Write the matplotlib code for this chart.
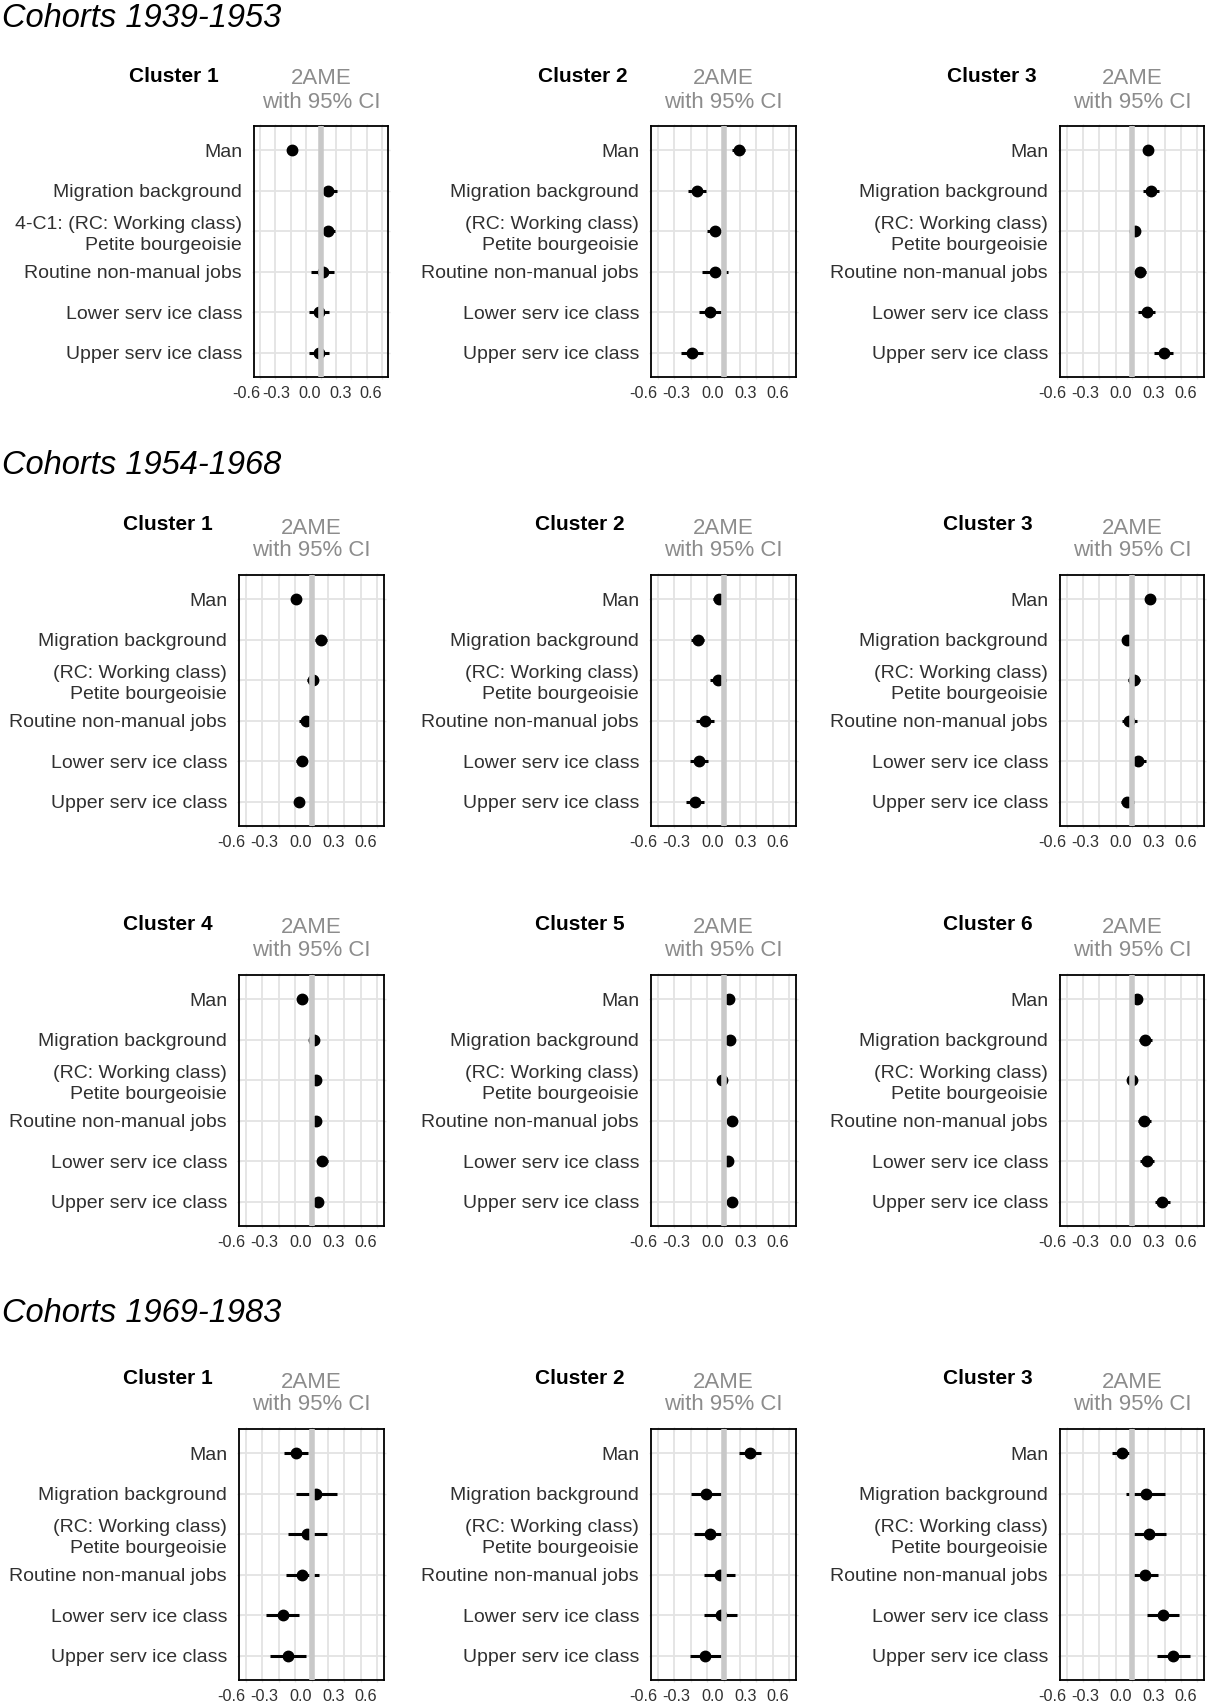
import numpy as np
import matplotlib
matplotlib.use("Agg")
import matplotlib.pyplot as plt

plt.rcParams['font.family'] = ['Liberation Sans', 'DejaVu Sans']

# row labels of every panel (top to bottom)
terms = ["Man", "Migration background", "(RC: Working class)\nPetite bourgeoisie",
         "Routine non-manual jobs", "Lower serv ice class", "Upper serv ice class"]
terms_first = ["Man", "Migration background", "4-C1: (RC: Working class)\nPetite bourgeoisie",
               "Routine non-manual jobs", "Lower serv ice class", "Upper serv ice class"]

# cohorts 1939-1953: AME and half width of the 95% CI
c39_cl1_est = [-0.285, 0.07, 0.065, 0.015, -0.02, -0.02]
c39_cl1_hw = [0.05, 0.085, 0.07, 0.11, 0.098, 0.098]
c39_cl2_est = [0.14, -0.24, -0.076, -0.08, -0.12, -0.285]
c39_cl2_hw = [0.06, 0.08, 0.075, 0.118, 0.1, 0.1]
c39_cl3_est = [0.145, 0.175, 0.025, 0.07, 0.135, 0.29]
c39_cl3_hw = [0.03, 0.07, 0.04, 0.06, 0.08, 0.085]

# cohorts 1954-1968
c54_cl1_est = [-0.143, 0.083, 0.01, -0.05, -0.09, -0.117]
c54_cl1_hw = [0.02, 0.055, 0.05, 0.06, 0.05, 0.04]
c54_cl2_est = [-0.043, -0.233, -0.05, -0.167, -0.223, -0.257]
c54_cl2_hw = [0.05, 0.06, 0.07, 0.083, 0.08, 0.08]
c54_cl3_est = [0.165, -0.045, 0.015, -0.025, 0.054, -0.045]
c54_cl3_hw = [0.045, 0.035, 0.055, 0.07, 0.07, 0.06]
c54_cl4_est = [-0.083, 0.023, 0.037, 0.043, 0.1, 0.06]
c54_cl4_hw = [0.02, 0.04, 0.02, 0.02, 0.05, 0.03]
c54_cl5_est = [0.05, 0.06, -0.01, 0.077, 0.04, 0.073]
c54_cl5_hw = [0.02, 0.02, 0.02, 0.03, 0.02, 0.03]
c54_cl6_est = [0.045, 0.12, 0.0, 0.114, 0.135, 0.276]
c54_cl6_hw = [0.03, 0.06, 0.03, 0.06, 0.065, 0.068]

# cohorts 1969-1983
c69_cl1_est = [-0.14, 0.043, -0.04, -0.083, -0.263, -0.217]
c69_cl1_hw = [0.107, 0.187, 0.178, 0.153, 0.152, 0.163]
c69_cl2_est = [0.243, -0.16, -0.123, -0.035, -0.025, -0.167]
c69_cl2_hw = [0.1, 0.14, 0.15, 0.14, 0.148, 0.14]
c69_cl3_est = [-0.096, 0.126, 0.16, 0.12, 0.28, 0.38]
c69_cl3_hw = [0.083, 0.178, 0.155, 0.12, 0.147, 0.15]

xticks = [-0.6, -0.3, 0.0, 0.3, 0.6]
xticklabels = ["-0.6", "-0.3", "0.0", "0.3", "0.6"]

W, H = 1211, 1707
fig = plt.figure(figsize=(W / 100, H / 100), dpi=100)

grid_col = '#e3e3e3'
txt_col = '#303030'


def panel(left, top, right, est, hw, labels, title, title_x):
    bottom = top + 251
    ax = fig.add_axes([left / W, 1 - bottom / H, (right - left) / W, (bottom - top) / H])
    y = np.arange(1, 7)
    est = np.array(est)
    hw = np.array(hw)
    ax.set_xlim(-0.66, 0.66)
    ax.set_ylim(6.6, 0.4)
    ax.set_xticks(xticks)
    ax.set_xticklabels(xticklabels)
    ax.set_xticks([-0.45, -0.15, 0.15, 0.45], minor=True)
    ax.set_yticks(y)
    ax.set_yticklabels(labels, linespacing=1.3)
    for lab in ax.get_xticklabels():
        lab.set_ha('right')
    ax.grid(which='both', color=grid_col, lw=1.3, zorder=0)
    ax.set_axisbelow(True)
    ax.hlines(y, est - hw, est + hw, color='black', lw=2.2, zorder=3)
    ax.plot(est, y, 'o', color='black', ms=7.5, zorder=4)
    ax.axvline(0, color='#c8c8c8', lw=4, zorder=5)
    for s in ax.spines.values():
        s.set_linewidth(1.3)
        s.set_color('black')
    ax.tick_params(axis='both', which='both', direction='inout', length=3, width=1,
                   color=grid_col, top=True, right=True)
    ax.tick_params(axis='y', labelsize=14, labelcolor=txt_col, pad=7.1)
    ax.tick_params(axis='x', labelsize=11.7, labelcolor=txt_col, pad=5.2)
    # titles above the panel
    fig.text(title_x / W, 1 - (top - 50) / H, title, ha='center', va='center',
             fontsize=15, fontweight='bold', color='black')
    cx = (left + right) / 2
    fig.text(cx / W, 1 - (top - 47) / H, "2AME", ha='center', va='center',
             fontsize=16, color='#8c8c8c')
    fig.text(cx / W, 1 - (top - 24) / H, "with 95% CI", ha='center', va='center',
             fontsize=16, color='#8c8c8c')
    return ax


def row_title(text, baseline):
    fig.text(2 / W, 1 - baseline / H, text, ha='left', va='baseline',
             fontsize=23.5, fontstyle='italic', color='black')


cols_first = [(254, 388), (651, 796), (1060, 1204)]
cols = [(239, 384), (651, 796), (1060, 1204)]
tx_first = [174, 583, 992]
tx = [168, 580, 988]

row_title("Cohorts 1939-1953", 27)
panel(cols_first[0][0], 126, cols_first[0][1], c39_cl1_est, c39_cl1_hw, terms_first, "Cluster 1", tx_first[0])
panel(cols_first[1][0], 126, cols_first[1][1], c39_cl2_est, c39_cl2_hw, terms, "Cluster 2", tx_first[1])
panel(cols_first[2][0], 126, cols_first[2][1], c39_cl3_est, c39_cl3_hw, terms, "Cluster 3", tx_first[2])

row_title("Cohorts 1954-1968", 474)
panel(cols[0][0], 575, cols[0][1], c54_cl1_est, c54_cl1_hw, terms, "Cluster 1", tx[0])
panel(cols[1][0], 575, cols[1][1], c54_cl2_est, c54_cl2_hw, terms, "Cluster 2", tx[1])
panel(cols[2][0], 575, cols[2][1], c54_cl3_est, c54_cl3_hw, terms, "Cluster 3", tx[2])
panel(cols[0][0], 975, cols[0][1], c54_cl4_est, c54_cl4_hw, terms, "Cluster 4", tx[0])
panel(cols[1][0], 975, cols[1][1], c54_cl5_est, c54_cl5_hw, terms, "Cluster 5", tx[1])
panel(cols[2][0], 975, cols[2][1], c54_cl6_est, c54_cl6_hw, terms, "Cluster 6", tx[2])

row_title("Cohorts 1969-1983", 1322)
panel(cols[0][0], 1429, cols[0][1], c69_cl1_est, c69_cl1_hw, terms, "Cluster 1", tx[0])
panel(cols[1][0], 1429, cols[1][1], c69_cl2_est, c69_cl2_hw, terms, "Cluster 2", tx[1])
panel(cols[2][0], 1429, cols[2][1], c69_cl3_est, c69_cl3_hw, terms, "Cluster 3", tx[2])

fig.savefig("out.png", dpi=100)
